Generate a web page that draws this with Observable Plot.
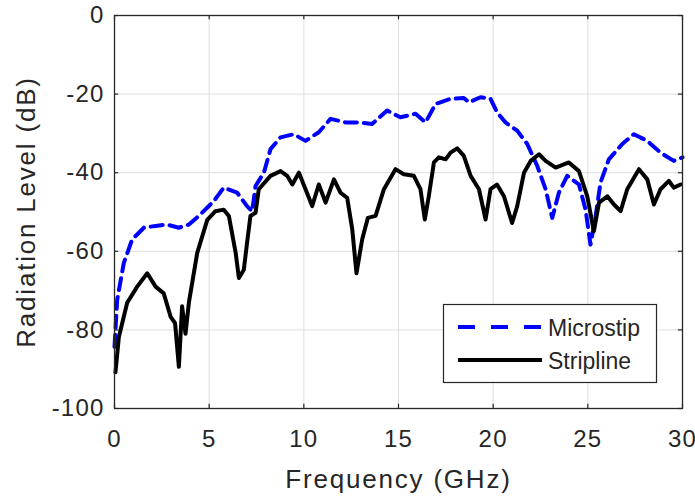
<!DOCTYPE html>
<html>
<head>
<meta charset="utf-8">
<script src="https://cdn.jsdelivr.net/npm/d3@7"></script>
<script src="https://cdn.jsdelivr.net/npm/@observablehq/plot@0.6"></script>
<style>
  html, body { margin: 0; padding: 0; background: #fff; }
  #chart { width: 695px; height: 496px; }
</style>
</head>
<body>
<div id="chart"></div>
<script>
// ---- Data ----
const seriesNames = ["Microstip", "Stripline"];

const microFreq = [0, 0.14, 0.49, 0.93, 1.55, 2.08, 2.78, 3.4, 3.93, 4.54, 5.25, 5.77, 6.48, 7.0, 7.27, 7.45, 7.89, 8.24, 8.77, 9.47, 10.09, 10.79, 11.41, 12.2, 12.9, 13.6, 14.4, 15.1, 15.9, 16.43, 16.96, 17.75, 18.45, 18.72, 19.33, 19.86, 20.2, 20.65, 21.27, 21.8, 22.33, 22.77, 23.12, 23.47, 23.91, 24.53, 24.88, 25.14, 25.41, 25.67, 26.11, 26.82, 27.43, 28.14, 28.84, 29.54, 30];
const microLevel = [-84.3, -72.4, -63, -57, -54, -53.6, -53.2, -54, -53.2, -50.6, -47.2, -43.8, -45.1, -48.5, -49.8, -43.4, -40, -34, -31, -30.2, -31.9, -29.7, -26.3, -27.2, -27.2, -27.6, -24.2, -25.9, -25, -27.2, -22.5, -21.2, -21, -22.1, -20.8, -21.2, -24.6, -27.2, -29.3, -32.7, -38.3, -44.2, -51.5, -45.1, -40.8, -43, -49.4, -58.3, -51.1, -42.5, -36.6, -32.7, -30.2, -31.9, -34.9, -37, -36.1];

const stripFreq = [0.05, 0.23, 0.67, 1.2, 1.73, 2.17, 2.6, 2.96, 3.2, 3.4, 3.57, 3.75, 3.93, 4.37, 4.9, 5.33, 5.77, 6.04, 6.4, 6.57, 6.83, 7.0, 7.18, 7.45, 7.62, 8.24, 8.77, 9.12, 9.39, 9.74, 10.09, 10.44, 10.79, 11.15, 11.59, 11.94, 12.29, 12.56, 12.78, 13.08, 13.38, 13.79, 14.23, 14.84, 15.28, 15.81, 16.16, 16.39, 16.6, 16.87, 17.13, 17.49, 17.75, 18.1, 18.45, 18.81, 19.25, 19.6, 19.86, 20.2, 20.57, 21.0, 21.27, 21.63, 21.98, 22.42, 22.77, 23.3, 24.0, 24.53, 24.97, 25.32, 25.59, 26.03, 26.38, 26.73, 27.08, 27.7, 28.14, 28.49, 28.84, 29.28, 29.54, 29.9];
const stripLevel = [-90.8, -81.8, -73.1, -69, -65.6, -69, -70.7, -76.6, -78.3, -89.4, -74, -81, -73, -60.4, -52, -49.8, -49.4, -51, -60.4, -66.8, -64.7, -57.9, -51, -50.2, -44.2, -40.8, -39.6, -40.8, -43, -40, -44.2, -48.5, -43, -47.6, -41.7, -45.1, -46.4, -54.5, -65.6, -57, -51.5, -51, -44.2, -39.1, -40.4, -40.8, -44.2, -51.9, -46, -37.4, -36.1, -36.6, -34.9, -33.8, -35.7, -40.8, -44.2, -51.9, -44.2, -43, -46, -52.8, -48.5, -40, -37, -35.3, -37, -38.7, -37.4, -39.6, -46, -54.9, -47.6, -46, -48.1, -49.8, -44.2, -39.1, -41.7, -48.1, -44.2, -42.1, -43.8, -43];

const xTicks = [0, 5, 10, 15, 20, 25, 30];
const xTickLabels = ["0", "5", "10", "15", "20", "25", "30"];
const yTicks = [-100, -80, -60, -40, -20, 0];
const yTickLabels = ["-100", "-80", "-60", "-40", "-20", "0"];
const xLabel = "Frequency (GHz)";
const yLabel = "Radiation Level (dB)";

// ---- Build tables ----
const micro = microFreq.map((f, i) => ({f, v: microLevel[i]}));
const strip = stripFreq.map((f, i) => ({f, v: stripLevel[i]}));

const ink = "#262626";
const gridColor = "#dedede";
const font = "'Liberation Sans', Arial, Helvetica, sans-serif";
const lineW = 4;

const chart = Plot.plot({
  width: 695,
  height: 496,
  marginLeft: 114,
  marginRight: 13,
  marginTop: 15,
  marginBottom: 88,
  style: {fontFamily: font, color: ink, background: "white", overflow: "visible"},
  x: {domain: [0, 30]},
  y: {domain: [-100, 0]},
  marks: [
    Plot.gridX(xTicks, {stroke: gridColor, strokeOpacity: 1, strokeWidth: 1}),
    Plot.gridY(yTicks, {stroke: gridColor, strokeOpacity: 1, strokeWidth: 1}),
    Plot.axisX({ticks: xTicks, tickFormat: d => xTickLabels[xTicks.indexOf(d)], tickSize: 0, tickPadding: 21, fontSize: 24, label: null, anchor: "bottom"}),
    Plot.axisY({ticks: yTicks, tickFormat: d => yTickLabels[yTicks.indexOf(d)], tickSize: 0, tickPadding: 10, fontSize: 24, label: null, anchor: "left"}),
    // inward tick marks on all four sides
    Plot.ruleX(xTicks, {x: d => d, y1: -100, y2: -98.9, stroke: ink, strokeWidth: 1.2}),
    Plot.ruleX(xTicks, {x: d => d, y1: 0, y2: -1.1, stroke: ink, strokeWidth: 1.2}),
    Plot.ruleY(yTicks, {y: d => d, x1: 0, x2: 0.22, stroke: ink, strokeWidth: 1.2}),
    Plot.ruleY(yTicks, {y: d => d, x1: 30, x2: 29.78, stroke: ink, strokeWidth: 1.2}),
    Plot.line(micro, {x: "f", y: "v", stroke: "#0000ff", strokeWidth: lineW, strokeDasharray: "12,7", strokeLinejoin: "round"}),
    Plot.line(strip, {x: "f", y: "v", stroke: "#000000", strokeWidth: lineW, strokeLinejoin: "round"}),
    Plot.frame({stroke: ink, strokeWidth: 1.3}),
    Plot.text([xLabel], {frameAnchor: "bottom", text: d => d, dy: 79, lineAnchor: "bottom", textAnchor: "middle", fontSize: 26, fill: ink}),
    Plot.text([yLabel], {frameAnchor: "left", text: d => d, dx: -80, rotate: -90, lineAnchor: "bottom", textAnchor: "middle", fontSize: 26, fill: ink})
  ]
});

document.getElementById("chart").appendChild(chart);

const svg = d3.select(chart);
svg.selectAll("g[aria-label='x-axis tick label'] text, g[aria-label='y-axis tick label'] text")
  .style("letter-spacing", "1.2px");
svg.selectAll("g[aria-label='text'] text").style("letter-spacing", "1.8px");

// ---- Legend (inside the plot area, lower right) ----
const lg = svg.append("g").attr("class", "legend").attr("text-anchor", "start");
lg.append("rect").attr("x", 443.5).attr("y", 304.5).attr("width", 213).attr("height", 78)
  .attr("fill", "white").attr("stroke", ink).attr("stroke-width", 1.2);
const rows = [
  {name: seriesNames[0], stroke: "#0000ff", dash: "17,16", y: 327},
  {name: seriesNames[1], stroke: "#000000", dash: null, y: 360}
];
rows.forEach(r => {
  lg.append("line").attr("x1", 458).attr("x2", 542).attr("y1", r.y).attr("y2", r.y)
    .attr("stroke", r.stroke).attr("stroke-width", lineW)
    .attr("stroke-dasharray", r.dash);
  lg.append("text").attr("x", 548).attr("y", r.y + 9).text(r.name)
    .attr("text-anchor", "start")
    .attr("font-size", 23).attr("fill", ink).attr("font-family", font);
});
</script>
</body>
</html>
